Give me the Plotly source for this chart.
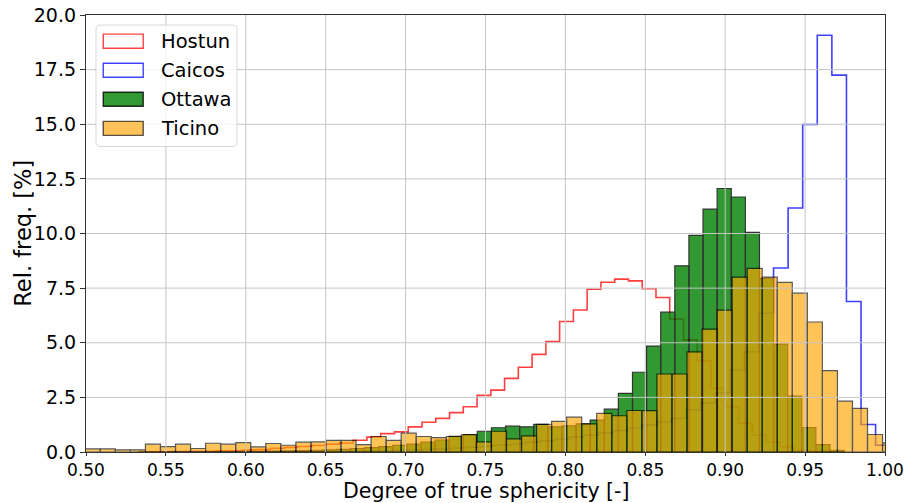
import plotly.graph_objects as go

# Relative frequency histograms of the degree of true sphericity.
# Every sample was binned separately, so each one has its own first edge and bin width.
series_names = ["Hostun", "Caicos", "Ottawa", "Ticino"]

hostun_start, hostun_width = 0.5380, 0.008613
hostun_rel = [0.01, 0.01, 0.02, 0.03, 0.04, 0.05, 0.07, 0.09, 0.12, 0.17,
              0.21, 0.25, 0.30, 0.36, 0.41, 0.54, 0.68, 0.84, 0.92, 1.15,
              1.36, 1.54, 1.80, 2.07, 2.59, 2.83, 3.37, 3.88, 4.47, 5.05,
              5.97, 6.50, 7.45, 7.77, 7.91, 7.83, 7.47, 7.07, 6.09, 5.13,
              4.18, 2.91, 2.07, 1.31, 0.77, 0.46, 0.24, 0.08, 0.03, 0.01]

caicos_start, caicos_width = 0.5470, 0.009125
caicos_rel = [0.00, 0.01, 0.01, 0.01, 0.01, 0.01, 0.01, 0.01, 0.01, 0.01,
              0.02, 0.02, 0.03, 0.04, 0.05, 0.06, 0.08, 0.10, 0.12, 0.15,
              0.18, 0.22, 0.27, 0.32, 0.38, 0.45, 0.52, 0.60, 0.68, 0.78,
              0.88, 0.98, 1.10, 1.24, 1.38, 1.53, 1.92, 2.25, 2.70, 3.75,
              4.59, 6.35, 8.42, 11.17, 14.99, 19.07, 17.25, 6.89, 1.26, 0.31]

ottawa_start, ottawa_width = 0.53301, 0.008828
ottawa_rel = [0.01, 0.00, 0.01, 0.00, 0.01, 0.02, 0.02, 0.03, 0.03, 0.04,
              0.05, 0.06, 0.08, 0.10, 0.12, 0.16, 0.20, 0.25, 0.30, 0.36,
              0.45, 0.55, 0.72, 0.80, 0.95, 1.11, 1.18, 1.15, 1.26, 1.15,
              1.20, 1.29, 1.46, 1.96, 2.68, 3.65, 4.85, 6.40, 8.52, 9.91,
              11.12, 12.06, 11.67, 10.05, 7.95, 4.94, 2.56, 1.12, 0.34, 0.08]

ticino_start, ticino_width = 0.49953, 0.009414
ticino_rel = [0.14, 0.14, 0.10, 0.10, 0.36, 0.25, 0.36, 0.16, 0.40, 0.36,
              0.43, 0.23, 0.39, 0.31, 0.45, 0.46, 0.53, 0.53, 0.34, 0.71,
              0.53, 0.86, 0.71, 0.66, 0.71, 0.79, 0.46, 0.95, 0.60, 0.74,
              1.26, 1.40, 1.60, 1.29, 1.77, 1.66, 1.90, 1.89, 3.57, 3.57,
              4.58, 5.62, 6.49, 8.00, 8.40, 8.00, 7.76, 7.27, 5.95, 3.72,
              2.33, 2.00, 0.80, 0.42]

x_ticks = [0.50, 0.55, 0.60, 0.65, 0.70, 0.75, 0.80, 0.85, 0.90, 0.95, 1.00]
y_ticks = [0.0, 2.5, 5.0, 7.5, 10.0, 12.5, 15.0, 17.5, 20.0]
x_label = "Degree of true sphericity [-]"
y_label = "Rel. freq. [%]"

FONT = "DejaVu Sans"
GRID = "#c4c4c4"


def step_outline(start, width, values):
    """Outline of an unfilled histogram (matplotlib's histtype='step')."""
    xs, ys = [start], [0.0]
    for i, v in enumerate(values):
        left = start + i * width
        xs += [left, left + width]
        ys += [v, v]
    xs.append(start + len(values) * width)
    ys.append(0.0)
    return xs, ys


def bar_rects(start, width, values):
    """One closed rectangle per bin, separated by gaps so each fills on its own."""
    xs, ys = [], []
    for i, v in enumerate(values):
        left = start + i * width
        right = left + width
        xs += [left, left, right, right, left, None]
        ys += [0.0, v, v, 0.0, 0.0, None]
    return xs, ys


fig = go.Figure()

hx, hy = step_outline(hostun_start, hostun_width, hostun_rel)
fig.add_trace(go.Scatter(x=hx, y=hy, mode="lines", name=series_names[0],
                         line=dict(color="red", width=1.6), opacity=0.75,
                         showlegend=False, hoverinfo="skip"))

cx, cy = step_outline(caicos_start, caicos_width, caicos_rel)
fig.add_trace(go.Scatter(x=cx, y=cy, mode="lines", name=series_names[1],
                         line=dict(color="blue", width=1.6), opacity=0.75,
                         showlegend=False, hoverinfo="skip"))

ox, oy = bar_rects(ottawa_start, ottawa_width, ottawa_rel)
fig.add_trace(go.Scatter(x=ox, y=oy, mode="lines", name=series_names[2],
                         fill="toself", fillcolor="rgb(0,128,0)",
                         line=dict(color="black", width=1.2), opacity=0.8,
                         showlegend=False, hoverinfo="skip"))

tx, ty = bar_rects(ticino_start, ticino_width, ticino_rel)
fig.add_trace(go.Scatter(x=tx, y=ty, mode="lines", name=series_names[3],
                         fill="toself", fillcolor="rgb(255,165,0)",
                         line=dict(color="black", width=1.2), opacity=0.65,
                         showlegend=False, hoverinfo="skip"))

# Grid drawn over the bars
shapes = []
for xv in x_ticks[1:-1]:
    shapes.append(dict(type="line", xref="x", yref="paper", x0=xv, x1=xv, y0=0, y1=1,
                       line=dict(color=GRID, width=1), layer="above"))
for yv in y_ticks[1:-1]:
    shapes.append(dict(type="line", xref="paper", yref="y", x0=0, x1=1, y0=yv, y1=yv,
                       line=dict(color=GRID, width=1), layer="above"))

# Legend box (upper left, rounded corners) with patch keys
L, R, B, T, rad = 0.0125, 0.189, 0.699, 0.977, 0.006
ry = rad * 799.3 / 436.3
box = (f"M {L + rad},{B} L {R - rad},{B} Q {R},{B} {R},{B + ry} "
       f"L {R},{T - ry} Q {R},{T} {R - rad},{T} L {L + rad},{T} "
       f"Q {L},{T} {L},{T - ry} L {L},{B + ry} Q {L},{B} {L + rad},{B} Z")
shapes.append(dict(type="path", xref="paper", yref="paper", path=box,
                   fillcolor="rgba(255,255,255,0.8)", line=dict(color="#d6d6d6", width=1),
                   layer="above"))

key_fill = ["rgba(0,0,0,0)", "rgba(0,0,0,0)", "rgba(0,128,0,0.8)", "rgba(255,165,0,0.65)"]
key_line = ["rgba(255,0,0,0.75)", "rgba(0,0,255,0.75)", "rgba(0,0,0,0.8)", "rgba(0,0,0,0.65)"]
annotations = []
row_top, row_step, key_h = 0.9401, 0.0665, 0.0321
for i, name in enumerate(series_names):
    yc = row_top - i * row_step
    shapes.append(dict(type="rect", xref="paper", yref="paper",
                       x0=0.0216, x1=0.0716, y0=yc - key_h / 2, y1=yc + key_h / 2,
                       fillcolor=key_fill[i], line=dict(color=key_line[i], width=1.4),
                       layer="above"))
    annotations.append(dict(xref="paper", yref="paper", x=0.0916, y=yc, text=name,
                            showarrow=False, xanchor="left", yanchor="middle",
                            font=dict(family=FONT, size=19.5, color="black")))

# Axis titles
annotations.append(dict(xref="paper", yref="paper", x=0.5, y=-0.0898, text=x_label,
                        showarrow=False, xanchor="center", yanchor="middle",
                        font=dict(family=FONT, size=20.5, color="black")))
annotations.append(dict(xref="paper", yref="paper", x=-0.0797, y=0.5, text=y_label,
                        showarrow=False, xanchor="center", yanchor="middle", textangle=-90,
                        font=dict(family=FONT, size=22.5, color="black")))

fig.update_layout(
    width=909, height=503,
    margin=dict(l=86, r=24, t=15, b=51),
    paper_bgcolor="white", plot_bgcolor="white",
    shapes=shapes, annotations=annotations,
    showlegend=False,
    font=dict(family=FONT, color="black"),
)

fig.update_xaxes(
    range=[0.5, 1.0], tickvals=x_ticks, ticktext=[f"{v:.2f}" for v in x_ticks],
    showgrid=False, zeroline=False, showline=True, mirror=True, automargin=False,
    linecolor="#333333", linewidth=1.2,
    ticks="outside", ticklen=2.5, tickcolor="#333333",
    tickfont=dict(family=FONT, size=17, color="black"),
)
fig.update_yaxes(
    range=[0, 20], tickvals=y_ticks, ticktext=[f"{v:.1f}" for v in y_ticks],
    showgrid=False, zeroline=False, showline=True, mirror=True, automargin=False,
    linecolor="#333333", linewidth=1.2,
    ticks="outside", ticklen=5, tickcolor="#333333",
    tickfont=dict(family=FONT, size=19, color="black"),
)

fig.write_html("out.html")
